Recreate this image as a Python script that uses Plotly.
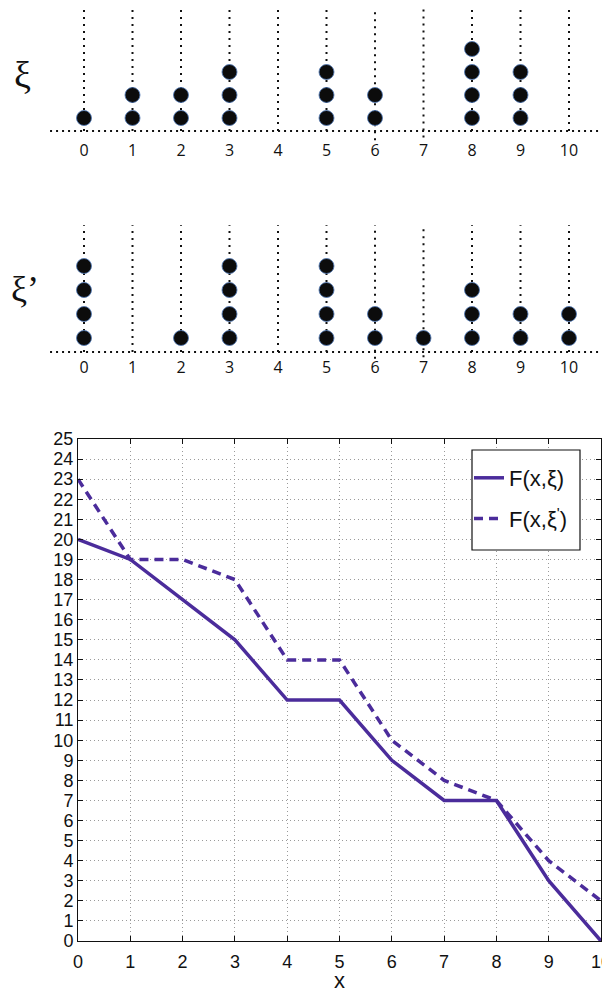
import plotly.graph_objects as go

# ---------------- data ----------------
positions = list(range(11))                      # 0..10
tick_labels = [str(i) for i in positions]
xi_counts = [1, 2, 2, 3, 0, 3, 2, 0, 4, 3, 0]        # dots per position, xi
xi_prime_counts = [4, 0, 1, 4, 0, 4, 2, 1, 3, 2, 2]  # dots per position, xi'
x_vals = list(range(11))
F_xi = [20, 19, 17, 15, 12, 12, 9, 7, 7, 3, 0]
F_xi_prime = [23, 19, 19, 18, 14, 14, 10, 8, 7, 4, 2]

H = 993
W = 610
OFF = 8  # page body margin offset
PURPLE = "#4b2c9b"


def fx(px):
    return (px - OFF) / W


def fy(py):
    return 1 - (py - OFF) / H


def pdom(top_px, bot_px):
    return [max(0, fy(bot_px)), min(1, fy(top_px))]


fig = go.Figure()


def dot_panel(counts, xa, ya, baseline, line_top, label_y, ext):
    # vertical dotted guide lines
    vx, vy = [], []
    for p in positions:
        vx += [p, p, None]
        vy += [baseline - ext.get(p, 0), line_top, None]
    fig.add_trace(go.Scatter(x=vx, y=vy, mode="lines", xaxis=xa, yaxis=ya,
                             line=dict(color="#111", width=2, dash="2px,5px"),
                             showlegend=False, hoverinfo="skip"))
    # baseline
    fig.add_trace(go.Scatter(x=[-0.7, 10.75], y=[baseline, baseline], mode="lines",
                             xaxis=xa, yaxis=ya,
                             line=dict(color="#111", width=2, dash="2px,4px"),
                             showlegend=False, hoverinfo="skip"))
    # dots
    dx, dy = [], []
    for p, c in zip(positions, counts):
        for k in range(1, c + 1):
            dx.append(p)
            dy.append(k)
    fig.add_trace(go.Scatter(x=dx, y=dy, mode="markers", xaxis=xa, yaxis=ya,
                             marker=dict(size=15, color="#0c0c0c",
                                         line=dict(color="rgba(80,120,180,0.85)", width=1)),
                             showlegend=False, hoverinfo="skip"))
    # tick labels
    fig.add_trace(go.Scatter(x=positions, y=[label_y] * len(positions), mode="text",
                             text=tick_labels, xaxis=xa, yaxis=ya,
                             textfont=dict(family="Open Sans", size=16, color="#111"),
                             showlegend=False, hoverinfo="skip", cliponaxis=False))


ext1 = {6: 0.4, 7: 0.28}
dot_panel(xi_counts, "x", "y", baseline=0.435, line_top=5.75, label_y=-0.46, ext=ext1)
ext2 = {6: 0.28, 7: 0.22}
dot_panel(xi_prime_counts, "x2", "y2", baseline=0.417, line_top=5.7, label_y=-0.3, ext=ext2)

# ---------------- bottom chart ----------------
fig.add_trace(go.Scatter(x=x_vals, y=F_xi, mode="lines", name="F(x,ξ)",
                         xaxis="x3", yaxis="y3", legendgroup="a",
                         line=dict(color=PURPLE, width=3.5)))
fig.add_trace(go.Scatter(x=x_vals, y=F_xi_prime, mode="lines", name="F(x,ξ<sup>'</sup>)",
                         xaxis="x3", yaxis="y3", legendgroup="b",
                         line=dict(color=PURPLE, width=3.5, dash="9px,6px")))

hidden = dict(visible=False, fixedrange=True, automargin=False)
# top panels: x=0 at ref px 84, 48.5 px per unit
r0 = -(84 - OFF) / 48.5
r1 = r0 + W / 48.5

# panel 1: row1 at ref 118, 23 px/row ; panel 2: row1 at ref 338, 24 px/row
p1_top, p1_bot = OFF, 165
p2_top, p2_bot = 205, 390
y1r = [1 - (p1_bot - 118) / 23, 1 + (118 - p1_top) / 23]
y2r = [1 - (p2_bot - 338) / 24, 1 + (338 - p2_top) / 24]

axis_common = dict(
    tickmode="linear", tick0=0, dtick=1, automargin=False,
    showline=True, linecolor="#111", linewidth=1, mirror="ticks",
    ticks="inside", ticklen=5, tickcolor="#111",
    showgrid=True, gridcolor="#9a9a9a", griddash="1px,3px", gridwidth=1,
    zeroline=False,
    tickfont=dict(family="Liberation Sans", size=18, color="#111"),
)

ann = dict(xref="paper", yref="paper", showarrow=False, xanchor="center", yanchor="middle")

fig.update_layout(
    width=W, height=H,
    margin=dict(l=0, r=0, t=0, b=0, autoexpand=False),
    paper_bgcolor="white", plot_bgcolor="white",
    xaxis=dict(domain=[0, 1], range=[r0, r1], anchor="y", **hidden),
    yaxis=dict(domain=pdom(p1_top, p1_bot), range=y1r, anchor="x", **hidden),
    xaxis2=dict(domain=[0, 1], range=[r0, r1], anchor="y2", **hidden),
    yaxis2=dict(domain=pdom(p2_top, p2_bot), range=y2r, anchor="x2", **hidden),
    xaxis3=dict(domain=[fx(78), fx(601)], range=[0, 10], anchor="y3",
                ticklabelstandoff=4, **axis_common),
    yaxis3=dict(domain=pdom(439, 941), range=[0, 25], anchor="x3",
                **axis_common),
    legend=dict(x=fx(469), xanchor="left", y=fy(457), yanchor="top",
                borderwidth=0, bgcolor="rgba(0,0,0,0)",
                font=dict(family="Liberation Sans", size=22, color="#111"),
                itemwidth=30, tracegroupgap=9, traceorder="grouped"),
    shapes=[dict(type="rect", xref="paper", yref="paper",
                 x0=fx(472), x1=fx(580), y0=fy(550), y1=fy(450),
                 line=dict(color="#111", width=1.2), fillcolor="white", layer="above")],
    annotations=[
        dict(text="ξ", x=fx(22), y=fy(75),
             font=dict(family="Liberation Serif", size=38, color="#111"), **ann),
        dict(text="ξ’", x=fx(25), y=fy(289),
             font=dict(family="Liberation Serif", size=36, color="#111"), **ann),
        dict(text="x", x=fx(339.5), y=fy(980.5),
             font=dict(family="Liberation Sans", size=22, color="#111"), **ann),
    ],
)

fig.write_html("out.html")
